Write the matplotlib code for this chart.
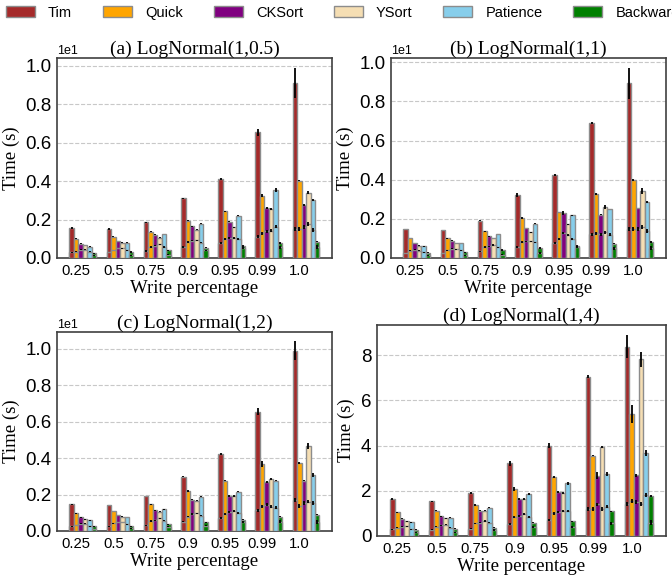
#!/usr/bin/env python3
"""
Sort time vs write percentage for LogNormal inputs (four sigma settings).

Each bar is the total time of one algorithm; the inner bar marks the
portion spent in the first phase. Both carry their own error bars.
"""

import numpy as np
import matplotlib.pyplot as plt
from matplotlib.ticker import MultipleLocator

write_pcts = ['0.25', '0.5', '0.75', '0.9', '0.95', '0.99', '1.0']
algorithms = ['Tim', 'Quick', 'CKSort', 'YSort', 'Patience', 'Backward']
colors = ['brown', 'orange', 'purple', 'wheat', 'skyblue', 'green']
titles = ['(a) LogNormal(1,0.5)', '(b) LogNormal(1,1)',
          '(c) LogNormal(1,2)', '(d) LogNormal(1,4)']

# total time (s), one row per algorithm
a_total = [[1.56, 1.51, 1.85, 3.10, 4.12, 6.53, 9.12],
           [1.00, 1.11, 1.37, 1.94, 2.43, 3.24, 4.02],
           [0.75, 0.88, 1.21, 1.65, 1.89, 2.60, 2.77],
           [0.68, 0.80, 1.06, 1.47, 1.59, 2.56, 3.38],
           [0.59, 0.80, 1.25, 1.78, 2.20, 3.54, 3.00],
           [0.24, 0.31, 0.40, 0.54, 0.61, 0.78, 0.85]]
b_total = [[1.48, 1.43, 1.90, 3.23, 4.23, 6.89, 8.93],
           [1.02, 1.00, 1.36, 2.04, 2.35, 3.28, 3.98],
           [0.77, 0.88, 1.10, 1.53, 2.30, 2.21, 2.55],
           [0.63, 0.77, 1.02, 1.31, 1.73, 2.59, 3.44],
           [0.60, 0.77, 1.22, 1.75, 2.18, 2.50, 2.86],
           [0.26, 0.29, 0.41, 0.51, 0.61, 0.73, 0.82]]
c_total = [[1.47, 1.43, 1.92, 2.99, 4.23, 6.56, 9.91],
           [0.97, 1.10, 1.47, 2.20, 2.75, 3.68, 3.75],
           [0.75, 0.88, 1.14, 1.72, 1.92, 2.71, 2.75],
           [0.64, 0.79, 1.06, 1.67, 1.92, 2.86, 4.67],
           [0.59, 0.77, 1.19, 1.89, 2.16, 2.77, 3.08],
           [0.27, 0.27, 0.37, 0.48, 0.62, 0.79, 0.90]]
d_total = [[1.63, 1.53, 1.90, 3.21, 3.99, 7.05, 8.38],
           [1.05, 1.12, 1.37, 2.09, 2.61, 3.56, 5.39],
           [0.77, 0.87, 1.12, 1.63, 1.93, 2.67, 2.68],
           [0.65, 0.78, 1.12, 1.63, 1.89, 3.93, 7.81],
           [0.60, 0.81, 1.25, 1.86, 2.33, 2.75, 3.67],
           [0.27, 0.32, 0.37, 0.59, 0.65, 1.09, 1.77]]

# error of the total time
a_err = [[0.03, 0.03, 0.03, 0.03, 0.05, 0.20, 0.78],
         [0.02, 0.02, 0.02, 0.04, 0.03, 0.06, 0.03],
         [0.02, 0.02, 0.02, 0.03, 0.03, 0.05, 0.06],
         [0.02, 0.02, 0.02, 0.02, 0.03, 0.06, 0.08],
         [0.02, 0.02, 0.02, 0.02, 0.02, 0.10, 0.06],
         [0.03, 0.03, 0.03, 0.04, 0.04, 0.04, 0.04]]
b_err = [[0.02, 0.02, 0.02, 0.10, 0.04, 0.04, 0.80],
         [0.02, 0.02, 0.02, 0.05, 0.02, 0.04, 0.03],
         [0.02, 0.02, 0.02, 0.02, 0.08, 0.02, 0.02],
         [0.02, 0.02, 0.02, 0.02, 0.02, 0.10, 0.15],
         [0.02, 0.02, 0.02, 0.03, 0.02, 0.02, 0.04],
         [0.03, 0.03, 0.03, 0.03, 0.04, 0.04, 0.04]]
c_err = [[0.02, 0.02, 0.02, 0.04, 0.06, 0.20, 0.50],
         [0.02, 0.02, 0.02, 0.05, 0.03, 0.15, 0.06],
         [0.02, 0.02, 0.02, 0.03, 0.04, 0.06, 0.03],
         [0.02, 0.02, 0.02, 0.03, 0.04, 0.05, 0.15],
         [0.02, 0.02, 0.02, 0.04, 0.02, 0.03, 0.10],
         [0.03, 0.03, 0.03, 0.04, 0.04, 0.04, 0.04]]
d_err = [[0.03, 0.02, 0.03, 0.10, 0.12, 0.08, 0.51],
         [0.03, 0.02, 0.03, 0.08, 0.05, 0.03, 0.40],
         [0.02, 0.02, 0.02, 0.03, 0.04, 0.15, 0.05],
         [0.02, 0.02, 0.02, 0.03, 0.04, 0.05, 0.35],
         [0.02, 0.02, 0.02, 0.04, 0.06, 0.08, 0.12],
         [0.02, 0.02, 0.02, 0.03, 0.03, 0.03, 0.05]]

# inner (first phase) time
a_inner = [[0.30, 0.31, 0.36, 0.57, 0.76, 1.11, 1.51],
           [0.33, 0.42, 0.57, 0.82, 0.97, 1.28, 1.49],
           [0.43, 0.52, 0.64, 0.90, 1.02, 1.39, 1.60],
           [0.43, 0.50, 0.71, 0.92, 1.06, 1.41, 1.77],
           [0.33, 0.40, 0.57, 0.80, 0.99, 1.63, 1.46],
           [0.14, 0.14, 0.17, 0.40, 0.50, 0.56, 0.59]]
b_inner = [[0.26, 0.26, 0.34, 0.56, 0.75, 1.21, 1.46],
           [0.37, 0.39, 0.56, 0.82, 0.97, 1.26, 1.46],
           [0.43, 0.48, 0.60, 0.85, 1.26, 1.22, 1.50],
           [0.37, 0.44, 0.66, 0.85, 1.16, 1.31, 1.60],
           [0.29, 0.39, 0.54, 0.80, 0.99, 1.19, 1.38],
           [0.14, 0.14, 0.17, 0.26, 0.54, 0.49, 0.53]]
c_inner = [[0.26, 0.26, 0.31, 0.51, 0.70, 1.15, 1.70],
           [0.33, 0.42, 0.55, 0.79, 0.93, 1.36, 1.39],
           [0.40, 0.49, 0.60, 0.93, 1.06, 1.43, 1.52],
           [0.40, 0.49, 0.70, 0.97, 1.12, 1.34, 1.61],
           [0.26, 0.37, 0.57, 0.84, 0.99, 1.28, 1.54],
           [0.11, 0.15, 0.24, 0.30, 0.51, 0.51, 0.48]]
d_inner = [[0.29, 0.27, 0.32, 0.54, 0.71, 1.19, 1.41],
           [0.37, 0.41, 0.56, 0.85, 1.00, 1.19, 1.55],
           [0.41, 0.47, 0.59, 0.88, 1.05, 1.40, 1.50],
           [0.43, 0.49, 0.66, 0.97, 1.12, 1.19, 1.41],
           [0.29, 0.37, 0.59, 0.85, 1.12, 1.30, 1.81],
           [0.16, 0.16, 0.27, 0.41, 0.41, 0.56, 0.59]]

# error of the inner time, per write percentage
inner_err = [0.02, 0.02, 0.03, 0.04, 0.05, 0.08, 0.10]

totals = [a_total, b_total, c_total, d_total]
errors = [a_err, b_err, c_err, d_err]
inners = [a_inner, b_inner, c_inner, d_inner]

# axes rectangles in figure fractions
positions = [[0.0848, 0.5552, 0.4092, 0.3448],
             [0.5818, 0.5552, 0.4092, 0.3448],
             [0.0848, 0.0845, 0.4092, 0.3431],
             [0.5610, 0.0759, 0.4301, 0.3638]]

SANS = 'Liberation Sans'
SERIF = 'Liberation Serif'
plt.rcParams['font.family'] = SANS


def draw_panel(ax, total, err, inner, title):
    x = np.arange(len(write_pcts))
    w = 0.12
    bars = []
    for i, name in enumerate(algorithms):
        xs = x + (i - 1) * w
        b = ax.bar(xs, total[i], w, color=colors[i], edgecolor='#8c8c8c',
                   linewidth=1.0, label=name, zorder=2)
        ax.bar(xs, inner[i], w, color=colors[i], edgecolor='#8c8c8c',
               linewidth=1.0, zorder=3)
        ax.errorbar(xs, total[i], yerr=err[i], fmt='none', ecolor='black',
                    elinewidth=1.3, capsize=0, zorder=4)
        ax.errorbar(xs, inner[i], yerr=inner_err, fmt='none', ecolor='black',
                    elinewidth=1.3, capsize=0, zorder=4)
        bars.append(b)

    ax.set_xticks(x)
    ax.set_xticklabels(write_pcts, fontsize=10.7, family=SANS)
    ax.yaxis.set_major_locator(MultipleLocator(2))
    ax.tick_params(axis='both', length=0)
    ax.tick_params(axis='x', pad=4)
    ax.tick_params(axis='y', labelsize=13.5, pad=4)
    ax.ticklabel_format(axis='y', style='sci', scilimits=(0, 0))
    ax.yaxis.get_offset_text().set_fontsize(9)

    ax.grid(axis='y', linestyle='--', color='#c8c8c8', linewidth=0.8)
    ax.grid(axis='x', visible=False)
    ax.set_axisbelow(True)
    for s in ax.spines.values():
        s.set_color('#404040')
        s.set_linewidth(1.2)

    ax.set_title(title, family=SERIF, fontsize=14, pad=3)
    ax.set_xlabel('Write percentage', family=SERIF, fontsize=13.5, labelpad=2)
    ax.set_ylabel('Time (s)', family=SERIF, fontsize=13.5, labelpad=4)
    return bars


fig = plt.figure(figsize=(6.72, 5.8), dpi=100)

handles = None
for k in range(4):
    ax = fig.add_axes(positions[k])
    bars = draw_panel(ax, totals[k], errors[k], inners[k], titles[k])
    if handles is None:
        handles = bars

fig.legend(handles, algorithms, loc='upper left', bbox_to_anchor=(0, 1),
           ncol=6, frameon=False, fontsize=10.5, borderaxespad=0,
           handlelength=2.0, handleheight=0.8, handletextpad=0.9,
           columnspacing=2.1)

fig.savefig('out.png', dpi=100)
